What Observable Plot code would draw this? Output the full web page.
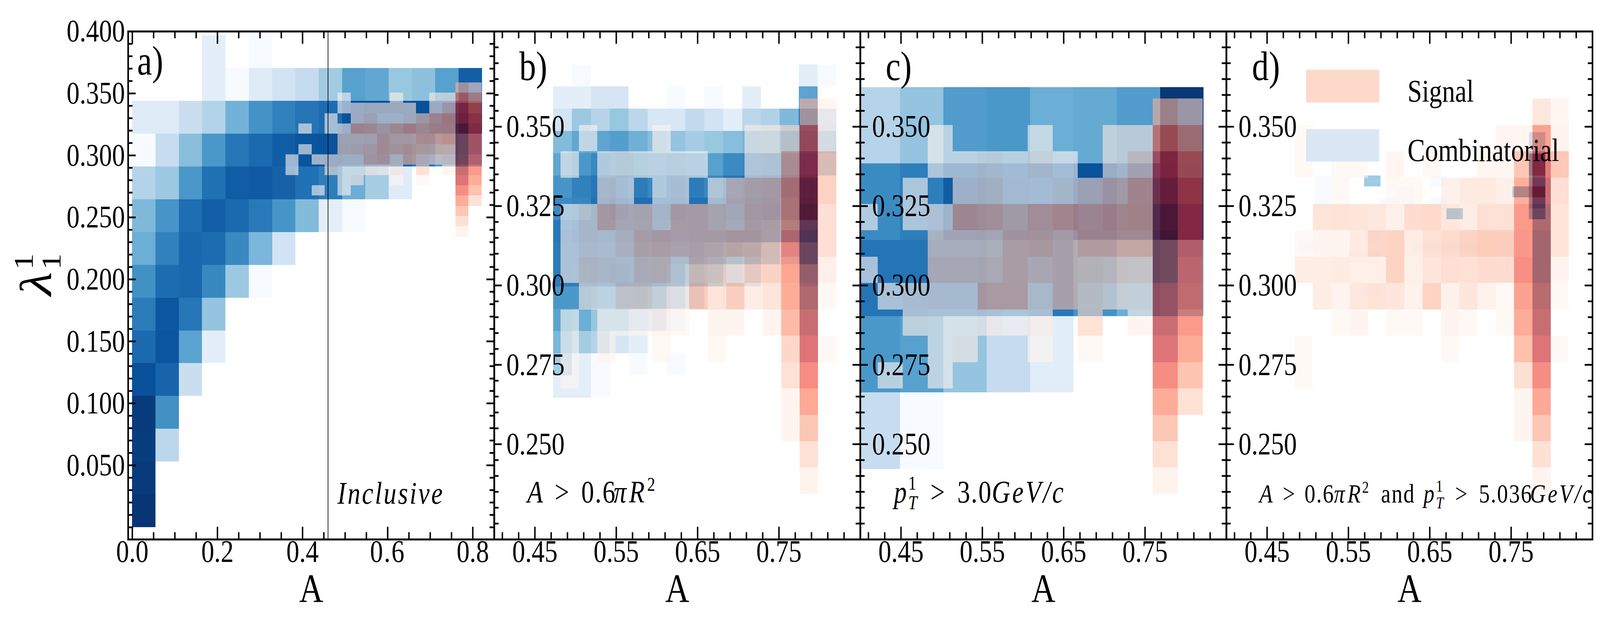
<!DOCTYPE html>
<html>
<head>
<meta charset="utf-8">
<script src="https://cdn.jsdelivr.net/npm/d3@7"></script>
<script src="https://cdn.jsdelivr.net/npm/@observablehq/plot@0.6"></script>
<style>
  html, body { margin: 0; background: #fff; overflow: hidden; }
  #charts { display: flex; width: 5000px; height: 1625px; transform-origin: 0 0; }
  #charts svg { overflow: visible; flex: none; }
</style>
</head>
<body>
<div id="charts"></div>
<script>
const _ = null

// colour fractions of the two histograms, rows run from top to bottom
const blueA = [
  [_,_,_,.10,_,.0],
  [_,_,_,.10,.0,.12,.19,.25,.37,.56,.53,.39,.42,.56,.82],
  [.125,.125,.23,.31,.48,.62,.69,.74,.77,.87,.88,.88,.88,.87,.97],
  [.0,.24,.43,.6,.73,.78,.83,.86,.87,.85,.82,.78,.72,.58,.52],
  [.31,.38,.6,.75,.83,.84,.81,.75,.7,.5,.35,.12],
  [.45,.61,.76,.82,.78,.72,.61,.44,.1,.0],
  [.5,.69,.79,.77,.66,.46,.19],
  [.63,.77,.79,.66,.38,.0],
  [.71,.85,.73,.4],
  [.78,.86,.55,.1],
  [.88,.8,.23],
  [.96,.63],
  [.95,.28],
  [.96],
  [.98]
]
const redA = [
  [_,_,_,_,_,_,_,_,_,_,_,_,_,.28,.16],
  [_,_,_,_,.0,_,_,_,.02,_,_,.04,.06,.56,.39],
  [_,_,_,_,.0,.08,.12,.11,.11,.09,_,.1,.23,.77,.6],
  [_,_,_,.0,_,.09,.16,.03,.03,.1,.22,.32,.38,.85,.68],
  [_,.0,_,.0,.05,.33,.3,.24,.3,.36,.3,.35,.37,.97,.72],
  [_,_,_,_,.17,.17,.2,.31,.27,.27,.37,.36,.4,1,.75],
  [_,.0,_,_,.18,.2,.25,.31,.3,.33,.3,.28,.27,1,.75],
  [.0,_,.02,.07,.09,.09,.26,.29,.15,.3,.2,.16,.2,.97,.66],
  [.0,_,_,.1,.0,.0,.06,.02,.1,_,.19,_,.04,.88,.55],
  [_,_,_,_,.0,.08,_,_,.0,_,.0,_,_,.76,.47],
  [_,_,.0,_,.0,_,_,_,_,_,_,_,_,.61,.35],
  [_,_,_,_,_,_,_,_,_,_,_,_,_,.47,.19],
  [_,_,_,_,_,_,_,_,_,_,_,_,_,.33],
  [_,_,_,_,_,_,_,_,_,_,_,_,_,.19],
  [_,_,_,_,_,_,_,_,_,_,_,_,_,.06]
]

const blueB = [
  [_,.0,_,_,_,_,_,_,_,_,_,_,_,.1,.0],
  [.1,.1,.17,.17,_,_,.0,_,.0,_,.1,_,_,.55],
  [.19,.38,.3,.39,.28,.16,.16,.26,.19,.1,.28,.32,.45,.8,.25],
  [.44,.53,.54,.57,.49,.43,.4,.35,.39,.43,.47,.45,.6,.85,.4],
  [.53,.6,.66,.62,.6,.58,.6,.58,.56,.65,.67,.67,.7,.9,.35],
  [.61,.69,.73,.75,.71,.66,.75,.71,.66,.73,.75,.76,.76,.95],
  [.65,.67,.75,.8,.76,.76,.78,.75,.75,.78,.78,.78,.7,.97],
  [.72,.75,.75,.75,.75,.75,.75,.75,.75,.75,.75,.7,.6,.7],
  [.71,.72,.72,.72,.72,.7,.7,.7,.65,.6,.55,.4,.2,.5],
  [.71,.7,.72,.75,.72,.7,.65,.5,.45,.3,.25,.0,_,.15],
  [.6,.6,.55,.55,.55,.5,.35,.2,_,.0],
  [.55,.5,.39,.38,.27,.2,.05],
  [.46,.36,.31,.17,.1],
  [.35,.1,.0,_,.0,_,.0],
  [.1,.1,.0]
]
const redB = [
  [_,_,_,_,_,_,_,_,_,_,_,_,_,.28,.03],
  [_,.0,_,_,_,.0,_,_,_,_,.04,.05,.15,.62,.06],
  [.0,_,.0,.05,.0,.0,.0,.0,_,_,.04,.06,.37,.76,.28],
  [_,_,.12,.03,_,.0,.03,_,.05,.21,.25,.27,.5,.91,.27],
  [.0,.1,.28,.2,.22,.1,.26,.27,.22,.18,.27,.28,.5,.95,.2],
  [.03,.1,.08,.16,.26,.28,.25,.27,.27,.3,.3,.27,.6,1,.2],
  [.03,.15,.13,.1,.2,.22,.1,.25,.22,.14,.25,.26,.5,1,.1],
  [_,.07,.02,.16,.17,.1,.06,.3,.17,.28,.12,.17,.47,.96,.0],
  [.0,_,.0,.0,.0,.05,.0,_,.04,.04,_,.05,.39,.88],
  [.0,_,.02,_,_,.0,_,_,.0,_,_,_,.24,.76,.0],
  [.0,_,_,_,_,_,_,_,_,_,_,_,.19,.61],
  [_,_,_,_,_,_,_,_,_,_,_,_,.04,.48],
  [_,_,_,_,_,_,_,_,_,_,_,_,.04,.33],
  [_,_,_,_,_,_,_,_,_,_,_,_,_,.19],
  [_,_,_,_,_,_,_,_,_,_,_,_,_,.06]
]

const blueC = [
  [.3,.4,.58,.6,.5,.52,.58,.97],
  [.65,.7,.83,.8,.78,.87,.8,.98],
  [.74,.74,.74,.7,.72,.62,.5,.45],
  [.6,.56,.4,.25,.11],
  [.24,.0]
]
const redC = [
  [_,_,_,_,_,_,_,_,_,_,_,_,_,.28,.16],
  [_,_,_,_,.0,_,_,_,.0,_,_,.07,.07,.55,.38],
  [_,_,_,_,.0,.0,.05,.0,.08,.0,_,.07,.2,.75,.55],
  [_,_,_,.0,_,.08,.12,.02,.02,.08,.16,.24,.36,.88,.65],
  [_,.0,_,.0,.05,.33,.3,.24,.32,.36,.31,.35,.37,.97,.72],
  [_,_,_,_,.17,.17,.18,.28,.3,.25,.33,.33,.33,1,.72],
  [_,.0,_,_,.2,.2,.22,.28,.22,.25,.22,.2,.18,1,.67],
  [_,_,.0,.05,.07,.07,.3,.3,.12,.25,.17,.12,.1,.88,.64],
  [_,_,_,.04,.0,.0,.04,.0,.05,_,.18,_,.04,.88,.55],
  [_,_,_,_,.0,.04,_,_,.0,_,.0,_,_,.76,.47],
  [_,_,.0,_,.0,_,_,_,_,_,_,_,_,.61,.34],
  [_,_,_,_,_,_,_,_,_,_,_,_,_,.47,.19],
  [_,_,_,_,_,_,_,_,_,_,_,_,_,.33],
  [_,_,_,_,_,_,_,_,_,_,_,_,_,.19],
  [_,_,_,_,_,_,_,_,_,_,_,_,_,.06]
]

const blueD = [
  [_,_,_,_,_,_,_,_,_,_,_,_,_,_,.4],
  [_,_,_,_,_,_,_,_,_,_,_,_,_,_,.4],
  [_,_,_,_,_,_,_,_,_,_,_,_,_,_,.98],
  [_,_,_,_,_,_,_,_,_,_,_,_,_,_,.98],
  [_,.0,_,_,.37,_,_,_,.0,_,_,_,_,_,.72],
  [_,.0,_,_,_,_,.0,_,_,_,_,_,_,.62,1],
  [_,.0,_,_,_,.0,.0,_,.0,_,_,_,_,_,.72],
  [_,_,_,_,_,_,_,_,_,.55,_,_,_,_,.55],
  [],
  [_,_,_,_,.0],
  [.0,_,_,_,_,_,_,.0,.0,.0,.0],
  [_,_,_,.0,.0],
  [],
  [],
  [_,_,_,_,.0]
]
const redD = [
  [_,_,_,_,_,_,_,_,_,_,_,_,_,.15,.03],
  [.0,_,_,_,_,_,_,_,_,_,_,.03,.03,.51,.06],
  [.0,_,.0,.0,_,.03,_,.0,_,_,.03,.03,.33,.72,.32],
  [_,_,.0,_,_,.0,.0,_,.08,.14,.14,.1,.45,.88,.2],
  [_,.17,.18,.17,.15,.08,.21,.23,.16,.12,.2,.19,.55,.96,.17],
  [.0,.04,.04,.14,.25,.26,.12,.19,.22,.26,.3,.29,.56,1,.17],
  [.12,.12,.13,.1,.1,.26,.1,.16,.2,.19,.21,.21,.6,1,.05],
  [_,.12,.05,.15,.18,.16,.07,.26,.08,.16,.07,.01,.52,.93,.0],
  [_,_,.0,.04,_,.0,.0,_,.04,.01,_,.0,.47,.88],
  [.0,_,_,_,_,_,_,_,.0,_,_,_,.36,.76,.0],
  [.0,_,_,_,_,_,_,_,_,_,_,_,.2,.61],
  [_,_,_,_,_,_,_,_,_,_,_,_,.04,.48],
  [_,_,_,_,_,_,_,_,_,_,_,_,.04,.33],
  [_,_,_,_,_,_,_,_,_,_,_,_,_,.19],
  [_,_,_,_,_,_,_,_,_,_,_,_,_,.05]
]

// bin edges: [x start, x end, y top, y bottom, number of x bins, number of y bins]
const redBinsA = [.36, .8209, .3588, .2343, 15, 15]
const blueBinsA = [0, .822, .3967, 0, 15, 15]
const blueBinsB = [.4725, .8209, .3696, .2646, 15, 15]
const redBinsB = [.4815, .8209, .3588, .2343, 15, 15]
const blueBinsC = [.3958, .8222, .3624, .2422, 8, 5]
const blueBinsD = [.4884, .7923, .3483, .2967, 15, 15]
const redBinsD = [.4842, .8212, .3588, .2343, 15, 15]

const inclusiveCut = .4598

const xMajorA = [0, .2, .4, .6, .8]
const xMinorA = [.05, .1, .15, .25, .3, .35, .45, .5, .55, .65, .7, .75]
const yMajorA = [.05, .1, .15, .2, .25, .3, .35, .4]
const xMajorZoom = [.45, .55, .65, .75]
const yMajorZoom = [.25, .275, .3, .325, .35]

const panelW = 1144, panelH = 1300, left = 400, top0 = 80, bottom = 245

const blues = d3.piecewise(d3.interpolateRgb, d3.schemeBlues[9])
const reds = d3.piecewise(d3.interpolateRgb, d3.schemeReds[9])

function cells(rows, bins) {
  const [x0, x1, y0, y1, nx, ny] = bins
  const dx = (x1 - x0) / nx, dy = (y0 - y1) / ny
  const out = []
  rows.forEach((row, r) => row.forEach((v, c) => {
    if (v !== null) out.push({x1: x0 + c * dx, x2: x0 + (c + 1) * dx, y1: y0 - (r + 1) * dy, y2: y0 - r * dy, v})
  }))
  return out
}

function heat(rows, bins, scheme, opacity) {
  return Plot.rect(cells(rows, bins), {
    x1: "x1", x2: "x2", y1: "y1", y2: "y2",
    fill: d => scheme(d.v), fillOpacity: opacity,
    clip: true, shapeRendering: "crispEdges"
  })
}

function ticks(xMajor, xMinor, yMajor, yMinor) {
  const s = {stroke: "#000", strokeWidth: 4.5}
  return [
    Plot.tickX(xMajor, {x: d => d, insetBottom: panelH - 32, ...s}),
    Plot.tickX(xMajor, {x: d => d, insetTop: panelH - 32, ...s}),
    Plot.tickX(xMinor, {x: d => d, insetBottom: panelH - 18, ...s}),
    Plot.tickX(xMinor, {x: d => d, insetTop: panelH - 18, ...s}),
    Plot.tickY(yMajor, {y: d => d, insetRight: panelW - 24, ...s}),
    Plot.tickY(yMajor, {y: d => d, insetLeft: panelW - 24, ...s}),
    Plot.tickY(yMinor, {y: d => d, insetRight: panelW - 14, ...s}),
    Plot.tickY(yMinor, {y: d => d, insetLeft: panelW - 14, ...s})
  ]
}

// text placed from the top left corner of the frame, dy is the baseline
function label(t, dx, dy, fontSize, fontStyle = "normal") {
  return Plot.text([t], {
    text: d => d, frameAnchor: "top-left", textAnchor: "start", lineAnchor: "bottom",
    dx, dy, fontSize, fontStyle, fill: "#000"
  })
}

function panel(o) {
  return Plot.plot({
    width: o.width, height: top0 + panelH + bottom,
    marginLeft: o.marginLeft, marginRight: 0, marginTop: top0, marginBottom: bottom,
    x: {domain: o.xDomain, axis: null},
    y: {domain: o.yDomain, axis: null},
    style: {fontFamily: "'Liberation Serif', serif", background: "transparent", overflow: "visible", maxWidth: "none"},
    marks: [
      ...o.heat,
      ...(o.before || []),
      ...ticks(o.xMajor, o.xMinor, o.yMajor, o.yMinor),
      Plot.frame({stroke: "#000", strokeWidth: 5}),
      Plot.axisX(o.xMajor, {tickSize: 0, tickPadding: 0, tickFormat: o.xFormat, fontSize: 81, label: null, fill: "#000"}),
      Plot.axisY(o.yMajor, {tickSize: 0, tickPadding: o.yPadding, tickFormat: ".3f", fontSize: 81, label: null, fill: "#000"}),
      Plot.text(["A"], {text: d => d, frameAnchor: "bottom", lineAnchor: "bottom", dy: 160, fontSize: 104, fill: "#000"}),
      ...o.after
    ]
  })
}

const xMinorZoom = d3.range(41, 84, 2).map(d => d / 100).filter(d => !xMajorZoom.some(m => Math.abs(m - d) < 1e-6))
const yMinorZoom = d3.range(225, 376, 5).map(d => d / 1000).filter(d => !yMajorZoom.some(m => Math.abs(m - d) < 1e-6))
const yMinorA = d3.range(0, 40).filter(d => d % 5 !== 0 || d === 0).map(d => d / 100)

const xZoomDomain = [.4, .85], yZoomDomain = [.22, .38]

const charts = [
  panel({
    width: left + panelW, marginLeft: left,
    xDomain: [-.0098, .8504], yDomain: [-.0098, .4],
    xMajor: xMajorA, xMinor: xMinorA, yMajor: yMajorA, yMinor: yMinorA,
    xFormat: ".1f", yPadding: 10,
    heat: [heat(blueA, blueBinsA, blues, 1), heat(redA, redBinsA, reds, .6)],
    before: [Plot.ruleX([inclusiveCut], {stroke: "#000", strokeWidth: 2})],
    after: [
      label("a)", 28, 110, 105),
      label("Inclusive", 654, 1208, 80, "italic"),
      // y label, built by hand because the text mark has no sub or superscripts
      Plot.text(["λ"], {text: d => d, frameAnchor: "left", rotate: -90, lineAnchor: "bottom", dx: -242, dy: 26, fontSize: 140, fontStyle: "italic", fill: "#000"}),
      Plot.text(["1"], {text: d => d, frameAnchor: "left", rotate: -90, lineAnchor: "bottom", dx: -298, dy: -40, fontSize: 84, fill: "#000"}),
      Plot.text(["1"], {text: d => d, frameAnchor: "left", rotate: -90, lineAnchor: "bottom", dx: -211, dy: -40, fontSize: 84, fill: "#000"})
    ]
  }),
  panel({
    width: panelW, marginLeft: 0,
    xDomain: xZoomDomain, yDomain: yZoomDomain,
    xMajor: xMajorZoom, xMinor: xMinorZoom, yMajor: yMajorZoom, yMinor: yMinorZoom,
    xFormat: ".2f", yPadding: -220,
    heat: [heat(blueB, blueBinsB, blues, 1), heat(redB, redBinsB, reds, .6)],
    after: [
      label("b)", 78, 124, 105),
      label("A", 103, 1205, 80, "italic"),
      label(">", 189, 1205, 80),
      label("0.6", 272, 1205, 80),
      label("πR", 373, 1205, 80, "italic"),
      label("2", 478, 1175, 50)
    ]
  }),
  panel({
    width: panelW, marginLeft: 0,
    xDomain: xZoomDomain, yDomain: yZoomDomain,
    xMajor: xMajorZoom, xMinor: xMinorZoom, yMajor: yMajorZoom, yMinor: yMinorZoom,
    xFormat: ".2f", yPadding: -219,
    heat: [heat(blueC, blueBinsC, blues, 1), heat(redC, redBinsA, reds, .6)],
    after: [
      label("c)", 79, 124, 105),
      label("p", 105, 1205, 80, "italic"),
      label("1", 150, 1172, 50),
      label("T", 150, 1222, 50, "italic"),
      label(">", 219, 1205, 80),
      label("3.0", 303, 1205, 80),
      label("GeV/c", 411, 1205, 80, "italic")
    ]
  }),
  panel({
    width: panelW, marginLeft: 0,
    xDomain: xZoomDomain, yDomain: yZoomDomain,
    xMajor: xMajorZoom, xMinor: xMinorZoom, yMajor: yMajorZoom, yMinor: yMinorZoom,
    xFormat: ".2f", yPadding: -220,
    heat: [heat(blueD, blueBinsD, blues, 1), heat(redD, redBinsD, reds, .6)],
    after: [
      label("d)", 80, 124, 105),
      Plot.frame({fill: "#fdd9cc", insetLeft: 249, insetRight: 666, insetTop: 98, insetBottom: 1118}),
      Plot.frame({fill: "#dae8f5", insetLeft: 249, insetRight: 666, insetTop: 250, insetBottom: 967}),
      label("Signal", 566, 179, 81),
      label("Combinatorial", 566, 331, 82),
      label("A", 103, 1205, 68, "italic"),
      label(">", 176, 1205, 68),
      label("0.6", 244, 1205, 68),
      label("πR", 336, 1205, 68, "italic"),
      label("2", 424, 1180, 42),
      label("and", 483, 1205, 68),
      label("p", 616, 1205, 68, "italic"),
      label("1", 655, 1177, 42),
      label("T", 655, 1220, 42, "italic"),
      label(">", 715, 1205, 68),
      label("5.036", 789, 1205, 68),
      label("GeV/c", 949, 1205, 68, "italic")
    ]
  })
]

// the text mark has no letter spacing option
const spacing = {"Inclusive": "5px", "GeV/c": "6px", "0.6": "3px", "3.0": "3px", "5.036": "3px", "and": "3px", "πR": "8px"}
const box = d3.select("#charts")
charts.forEach(chart => {
  box.append(() => chart)
  d3.select(chart).selectAll("text").each(function() {
    const s = spacing[this.textContent]
    if (s) this.style.letterSpacing = s
  })
})

// the browser window can be narrower than the 5000 px layout, squeeze it to fit
box.style("transform", `scaleX(${Math.min(1, window.innerWidth / 5000)})`)
</script>
</body>
</html>
